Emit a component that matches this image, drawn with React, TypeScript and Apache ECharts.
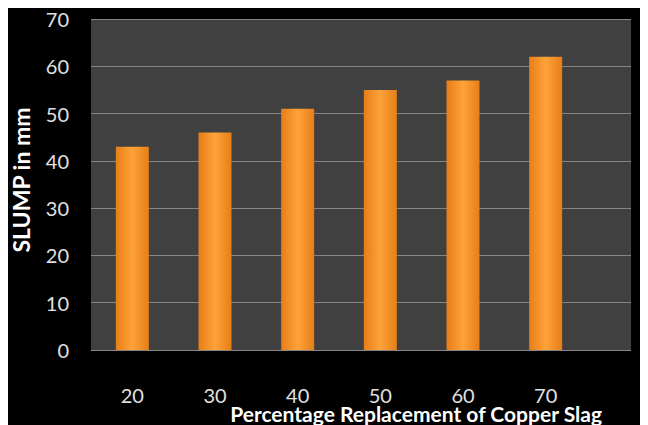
import React, { useEffect, useRef } from "react";
import * as echarts from "echarts";

const categories = ["20", "30", "40", "50", "60", "70"];
const slumpValues = [43, 46, 51, 55, 57, 62];
const yTicks = { min: 0, max: 70, interval: 10 };
const xAxisTitle = "Percentage Replacement of Copper Slag";
const yAxisTitle = "SLUMP in mm";

export default function App() {
  const ref = useRef<HTMLDivElement>(null);
  useEffect(() => {
    if (!ref.current) return;
    const chart = echarts.init(ref.current, null, { renderer: "svg" });
    const font = "Lato, 'Open Sans', sans-serif";
    chart.setOption({
      animation: false,
      backgroundColor: "#000000",
      grid: [
        { left: 83, right: 17, top: 11, bottom: 75, show: true, backgroundColor: "#404040", borderWidth: 0 },
        { left: 83, right: 61, top: 11, bottom: 75 },
      ],
      xAxis: [
        { type: "category", gridIndex: 0, data: categories, show: false },
        {
          type: "category",
          gridIndex: 1,
          data: categories,
          axisLine: { show: false },
          axisTick: { show: false },
          axisLabel: { color: "#e0e0e0", fontSize: 20, fontFamily: font, margin: 35 },
        },
      ],
      yAxis: [
        {
          type: "value",
          gridIndex: 0,
          min: yTicks.min,
          max: yTicks.max,
          interval: yTicks.interval,
          axisLine: { show: false },
          axisTick: { show: false },
          axisLabel: { color: "#e0e0e0", fontSize: 20, lineHeight: 20, fontFamily: font, margin: 22 },
          splitLine: { lineStyle: { color: "#858585", width: 1 } },
        },
        {
          type: "value",
          gridIndex: 1,
          min: yTicks.min,
          max: yTicks.max,
          interval: yTicks.interval,
          show: false,
        },
      ],
      series: [
        {
          type: "bar",
          xAxisIndex: 1,
          yAxisIndex: 1,
          data: slumpValues,
          barWidth: 33,
          itemStyle: {
            color: new echarts.graphic.LinearGradient(0, 0, 1, 0, [
              { offset: 0, color: "#e67e16" },
              { offset: 0.5, color: "#ffa23a" },
              { offset: 1, color: "#e67e16" },
            ]),
          },
        },
      ],
      graphic: [
        {
          type: "text",
          x: 13,
          y: 172,
          rotation: Math.PI / 2,
          style: {
            text: yAxisTitle,
            fill: "#ffffff",
            font: `bold 23px ${font}`,
            textAlign: "center",
            textVerticalAlign: "middle",
          },
        },
        {
          type: "text",
          x: 594,
          y: 405,
          style: {
            text: xAxisTitle,
            fill: "#ffffff",
            font: `bold 21px ${font}`,
            textAlign: "right",
            textVerticalAlign: "middle",
          },
        },
      ],
    });
    return () => chart.dispose();
  }, []);
  return <div ref={ref} style={{ width: 640, height: 417 }} />;
}
